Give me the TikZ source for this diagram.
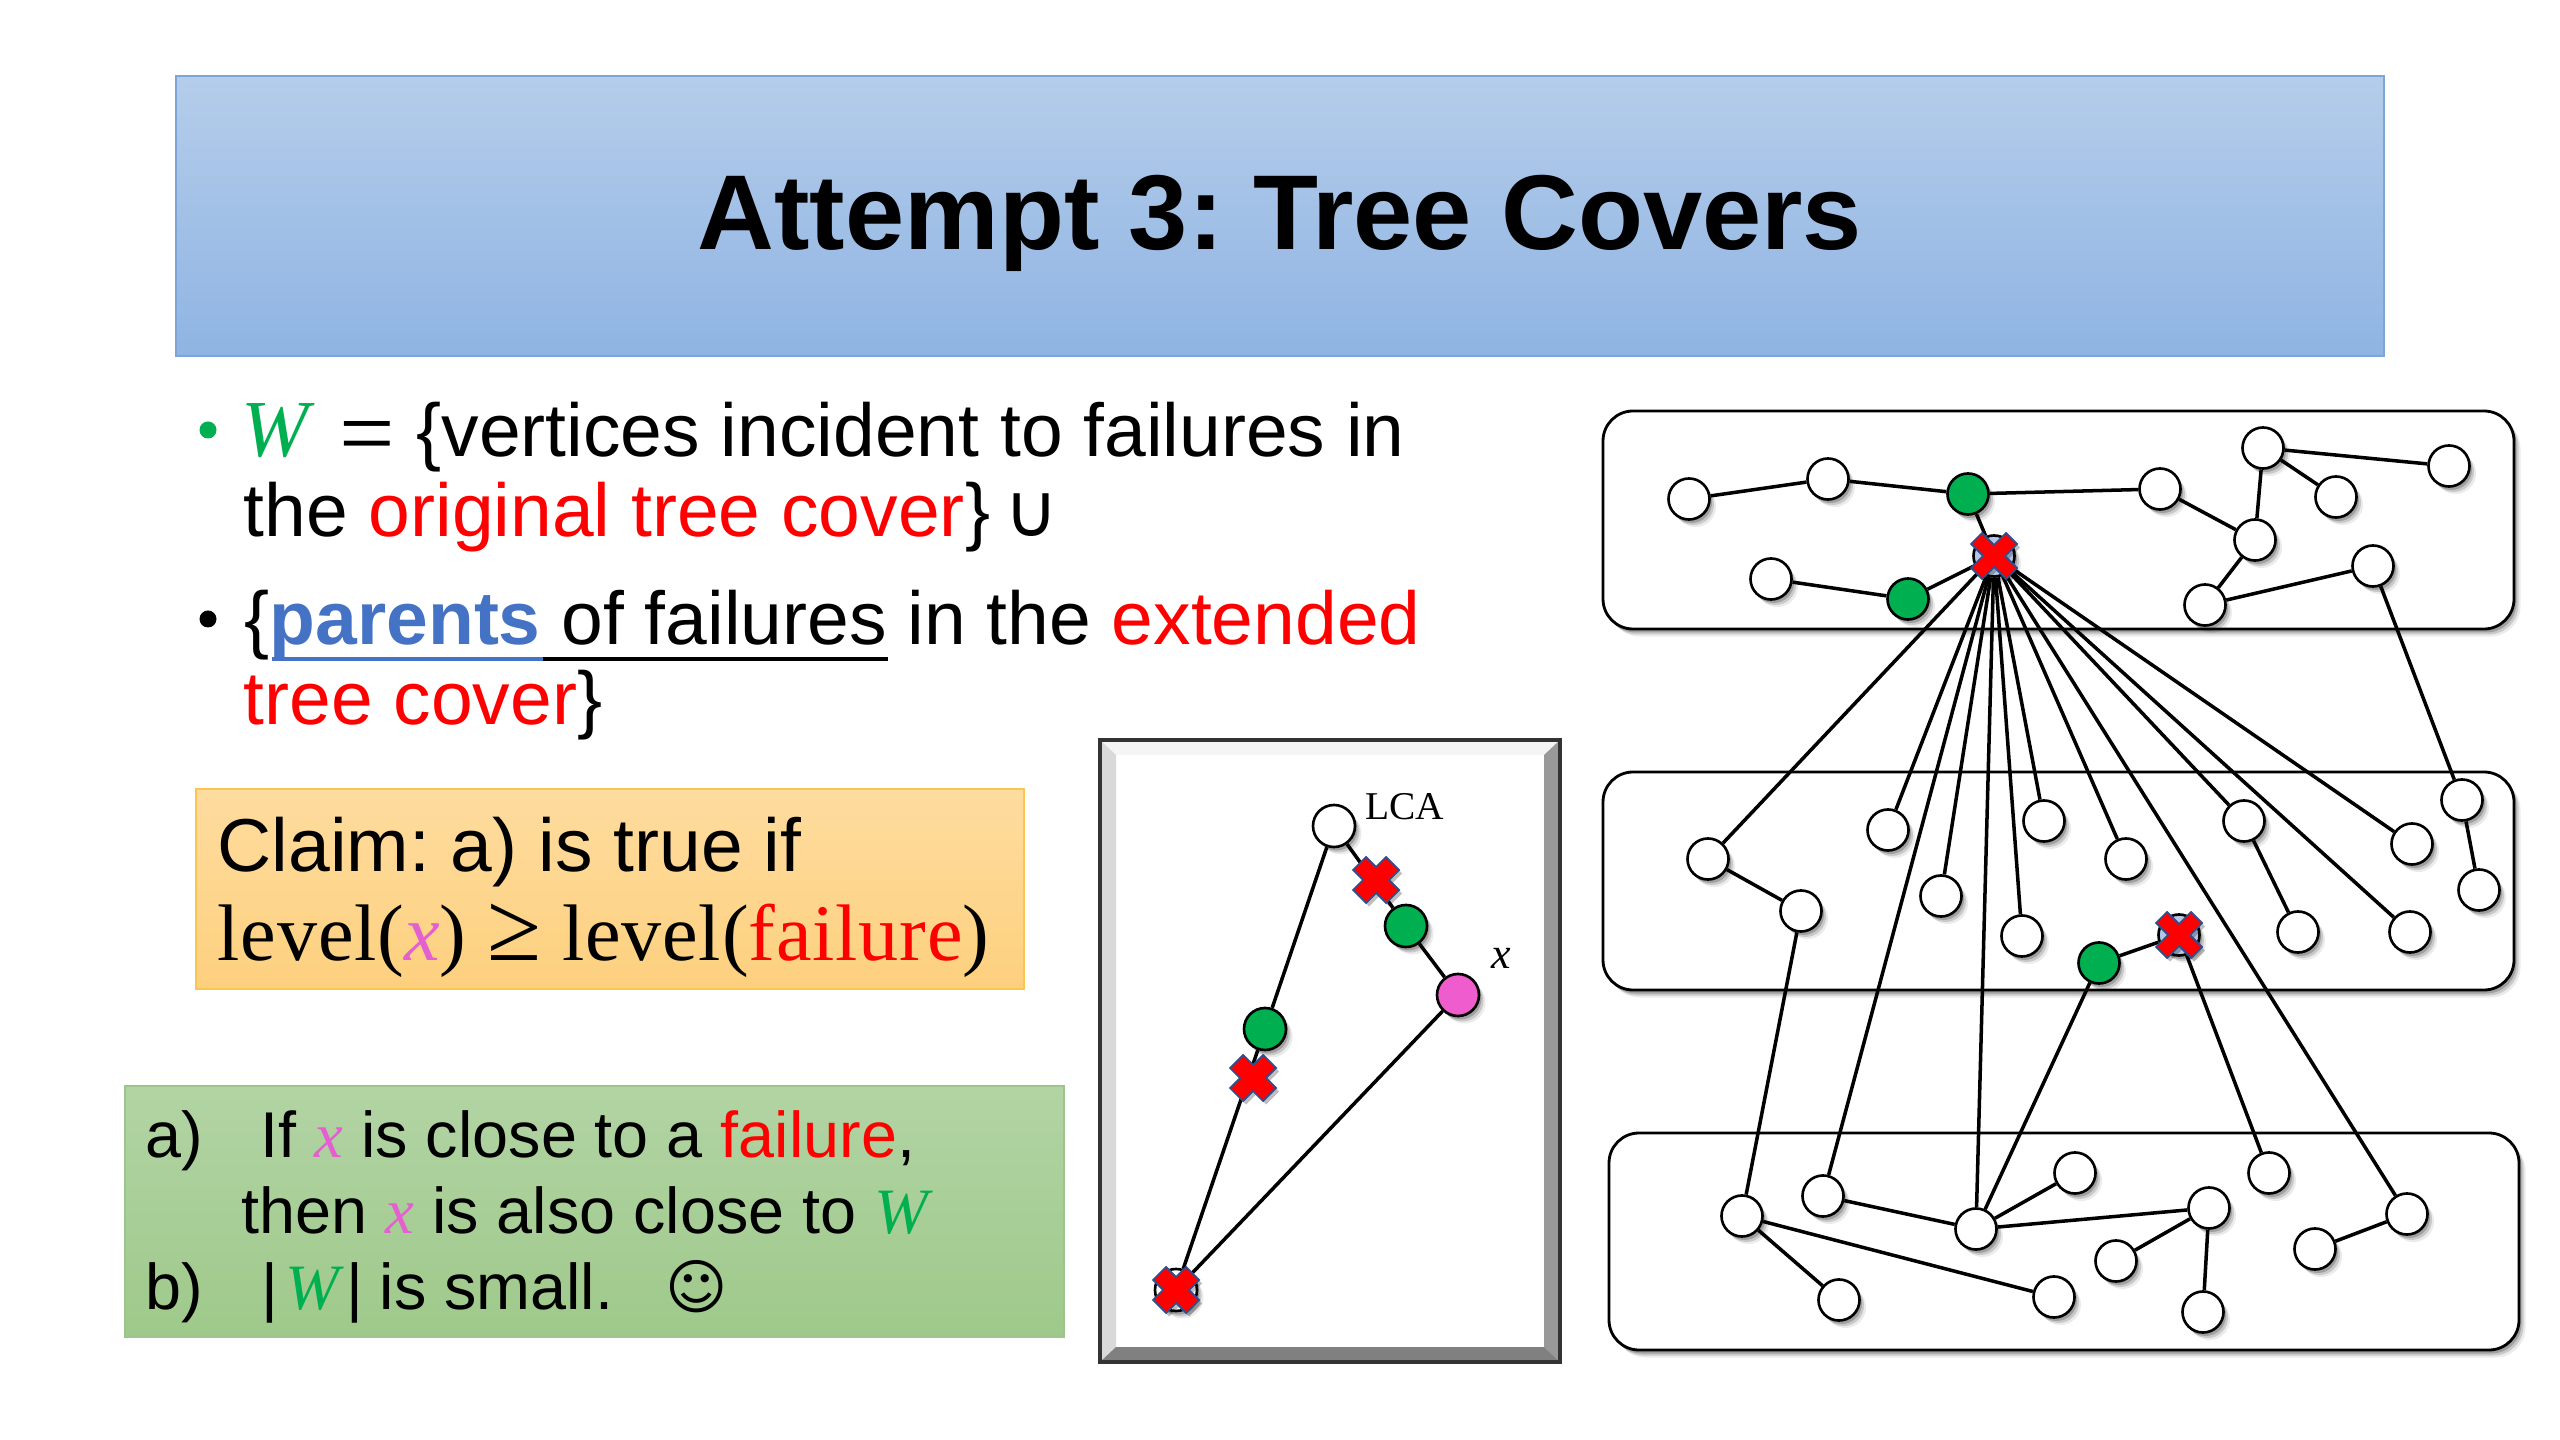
\documentclass[tikz,border=0pt]{standalone}
\usepackage{fontspec}
\setmainfont{Liberation Sans}
\newfontfamily\serf{Liberation Serif}
\newfontfamily\serfls[LetterSpace=1]{Liberation Serif}
\newfontfamily\djv{DejaVu Sans}
\usetikzlibrary{shadows}
\definecolor{grn}{HTML}{00B050}
\definecolor{pnk}{HTML}{E45FCF}
\definecolor{nodepink}{HTML}{EE5CCD}
\definecolor{blu}{HTML}{4472C4}
\definecolor{xedge}{HTML}{2F4F8F}
\definecolor{under}{HTML}{B4C7E7}
\definecolor{ttop}{HTML}{B5CDEA}
\definecolor{tbot}{HTML}{8FB4E3}
\definecolor{ctop}{HTML}{FEDC9F}
\definecolor{cbot}{HTML}{FDD07E}
\definecolor{gtop}{HTML}{B2D4A4}
\definecolor{gbot}{HTML}{9FC98B}
\newcommand{\tW}{{\serf\itshape\color{grn}W}}
\newcommand{\tX}{{\serf\itshape\color{pnk}x}}
\newcommand{\red}[1]{{\color{red}#1}}
\newcommand{\failx}[2][11]{\path[failure mark,shift={(#2)}] (#1,0) -- (23,{23-#1}) -- ({23-#1},23) -- (0,#1) -- ({-(23-#1)},23) -- (-23,{23-#1}) -- (-#1,0) -- (-23,{-(23-#1)}) -- ({-(23-#1)},-23) -- (0,-#1) -- ({23-#1},-23) -- (23,{-(23-#1)}) -- cycle;}
\tikzset{
  x=0.01cm, y=-0.01cm,
  softshadow/.style={
    drop shadow={shadow xshift=.065cm,shadow yshift=-.075cm,opacity=.08,fill=black},
    drop shadow={shadow xshift=.045cm,shadow yshift=-.055cm,opacity=.14,fill=black},
    drop shadow={shadow xshift=.025cm,shadow yshift=-.035cm,opacity=.2,fill=black}},
  vert/.style={circle,draw=black,line width=.75pt,fill=white,minimum size=.41cm,inner sep=0pt,softshadow},
  vertw/.style={vert,minimum size=.42cm},
  gv/.style={vert,fill=grn},
  uv/.style={vert,fill=under},
  group box/.style={draw=black,line width=.8pt,fill=white,rounded corners=.3cm,softshadow},
  edge line/.style={draw=black,line width=1pt},
  failure mark/.style={fill=red,draw=xedge,line width=.5pt,
    drop shadow={shadow xshift=.03cm,shadow yshift=-.035cm,opacity=.25,fill=black}},
  txt/.style={anchor=base west,inner sep=0pt,font=\frenchspacing\fontsize{21.33}{24}\selectfont},
  gtxt/.style={anchor=base west,inner sep=0pt,font=\frenchspacing\fontsize{18.4}{22}\selectfont},
}
\begin{document}
\begin{tikzpicture}
\useasboundingbox (0,0) rectangle (2560,1440);
\fill[white] (0,0) rectangle (2560,1440);

% title
\path[top color=ttop,bottom color=tbot,draw={rgb,255:red,125;green,165;blue,215},line width=.5pt] (176,76) rectangle (2384,356);
\node[inner sep=0pt,font=\frenchspacing\fontsize{30.25}{34}\selectfont\bfseries] (title) at (1280,223) {Attempt 3: Tree Covers};

% bullets
\fill[grn] (208,430) circle (8.5);
\fill[black] (208,619) circle (8.5);
\node[txt,font=\fontsize{23}{24}\selectfont] (w1) at (241,457) {\tW};
\node[txt,font=\fontsize{28}{24}\selectfont] (eq) at (339,467) {\serf =};
\node[txt] (l1) at (416,457) {\{vertices incident to failures in};
\node[txt] (l2) at (243,537) {the \red{original tree cover}\}};
\node[txt,font=\djv\fontsize{21}{24}\selectfont] (cup) at (1004,537) {∪};
\node[txt] (l3) at (244,645) {\{{\color{blu}\bfseries parents} of failures in the \red{extended}};
\node[txt] (l4) at (243,725) {\red{tree cover}\}};
\draw[blu,line width=1.1pt] (272,659) -- (543,659);
\draw[black,line width=1.1pt] (543,659) -- (888,659);

% claim box
\path[top color=ctop,bottom color=cbot,draw={rgb,255:red,250;green,197;blue,80},line width=.6pt] (196,789) rectangle (1024,989);
\node[txt] (c1) at (217,871) {Claim: a) is true if};
\node[txt,font=\frenchspacing\serfls\fontsize{22.8}{26}\selectfont] (c2) at (217,960) {level({\itshape\color{pnk}x}) {\fontsize{28}{26}\selectfont ≥} level(\red{failure})};

% green box
\path[top color=gtop,bottom color=gbot,draw={rgb,255:red,155;green,197;blue,138},line width=.6pt] (125,1086) rectangle (1064,1337);
\node[gtxt] (ga) at (145,1157) {a)};
\node[gtxt] (g1) at (260,1157) {If \tX{} is close to a \red{failure},};
\node[gtxt] (g2) at (241,1233) {then \tX{} is also close to \tW};
\node[gtxt] (gb) at (145,1309) {b)};
\node[gtxt] (g3) at (261,1309) {|\kern2pt\tW\kern2pt|};
\node[gtxt] (g4) at (379,1309) {is small.};
\node[inner sep=0pt,font=\djv\fontsize{17}{20}\selectfont] (smile) at (697,1287) {☺};

% inset bevel frame
\fill[white] (1100,740) rectangle (1560,1362);
\fill[gray!8] (1100,740) -- (1560,740) -- (1544,755) -- (1116,755) -- cycle;
\fill[gray!30] (1100,740) -- (1116,755) -- (1116,1347) -- (1100,1362) -- cycle;
\fill[gray!80] (1560,740) -- (1544,755) -- (1544,1347) -- (1560,1362) -- cycle;
\fill[gray] (1100,1362) -- (1116,1347) -- (1544,1347) -- (1560,1362) -- cycle;
\draw[black!80,line width=1.1pt] (1100,740) rectangle (1560,1362);

% inset nodes
\node[vertw] (lca) at (1334,826) {};
\node[vertw,fill=grn] (ig1) at (1406,926) {};
\node[vertw,fill=nodepink] (px) at (1458,995) {};
\node[vertw,fill=grn] (ig2) at (1265,1029) {};
\node[vertw] (ixb) at (1176,1290) {};
\coordinate (ix1) at (1376,880);
\coordinate (ix2) at (1253,1078);
\draw[edge line] (lca) -- (ig1);
\draw[edge line] (ig1) -- (px);
\draw[edge line] (lca) -- (ig2);
\draw[edge line] (ig2) -- (ixb);
\draw[edge line] (px) -- (ixb);
\failx[13]{ix1}
\failx[13]{ix2}
\failx[13]{ixb}
\node[inner sep=0pt,font=\serf\fontsize{11.2}{13}\selectfont] (lcat) at (1405,807) {LCA};
\node[inner sep=0pt,font=\serf\itshape\fontsize{12.5}{14}\selectfont] (xt) at (1501,958) {x};

% groups
\path[group box] (1603,411) rectangle (2514,629);
\path[group box] (1603,772) rectangle (2514,990);
\path[group box] (1609,1133) rectangle (2519,1350);

% top tree
\node[vert] (t1) at (1689,499) {};
\node[vert] (t2) at (1828,479) {};
\node[gv] (t3) at (1968,494) {};
\node[vert] (t4) at (2160,489) {};
\node[vert] (t5) at (2263,448) {};
\node[vert] (t6) at (2449,466) {};
\node[vert] (t7) at (2336,497) {};
\node[vert] (t8) at (2255,540) {};
\node[vert] (t9) at (2373,566) {};
\node[vert] (t10) at (2205,605) {};
\node[vert] (t11) at (1771,579) {};
\node[gv] (t12) at (1908,599) {};
\node[uv] (f1) at (1994,556) {};

% middle tree
\node[vert] (m1) at (1708,859) {};
\node[vert] (m2) at (1801,911) {};
\node[vert] (m3) at (1888,830) {};
\node[vert] (m4) at (1941,896) {};
\node[vert] (m5) at (2022,936) {};
\node[vert] (m6) at (2044,821) {};
\node[vert] (m7) at (2126,859) {};
\node[gv] (m8) at (2099,963) {};
\node[uv] (f2) at (2179,935) {};
\node[vert] (m10) at (2244,821) {};
\node[vert] (m11) at (2298,932) {};
\node[vert] (m12) at (2412,844) {};
\node[vert] (m13) at (2410,932) {};
\node[vert] (m14) at (2462,800) {};
\node[vert] (m15) at (2479,890) {};

% bottom tree
\node[vert] (b1) at (1742,1216) {};
\node[vert] (b2) at (1823,1196) {};
\node[vert] (b3) at (1976,1229) {};
\node[vert] (b4) at (2075,1173) {};
\node[vert] (b5) at (2209,1208) {};
\node[vert] (b6) at (2269,1173) {};
\node[vert] (b7) at (2407,1214) {};
\node[vert] (b8) at (2315,1249) {};
\node[vert] (b9) at (2116,1261) {};
\node[vert] (b10) at (2203,1312) {};
\node[vert] (b11) at (2054,1297) {};
\node[vert] (b12) at (1839,1300) {};

% edges
\foreach \a/\b in {t1/t2,t2/t3,t3/t4,t4/t8,t5/t6,t5/t7,t5/t8,t8/t10,t10/t9,t3/f1,f1/t12,t12/t11,t9/m14,
  f1/m1,f1/m3,f1/b2,f1/m4,f1/b3,f1/m5,f1/m6,f1/m7,f1/b7,f1/m10,f1/m13,f1/m12,
  m10/m11,m14/m15,m1/m2,m2/b1,m8/f2,m8/b3,f2/b6,
  b2/b3,b3/b4,b3/b5,b1/b11,b1/b12,b5/b9,b5/b10,b7/b8}
  \draw[edge line] (\a) -- (\b);
\failx{f1}
\failx{f2}
\end{tikzpicture}
\end{document}
